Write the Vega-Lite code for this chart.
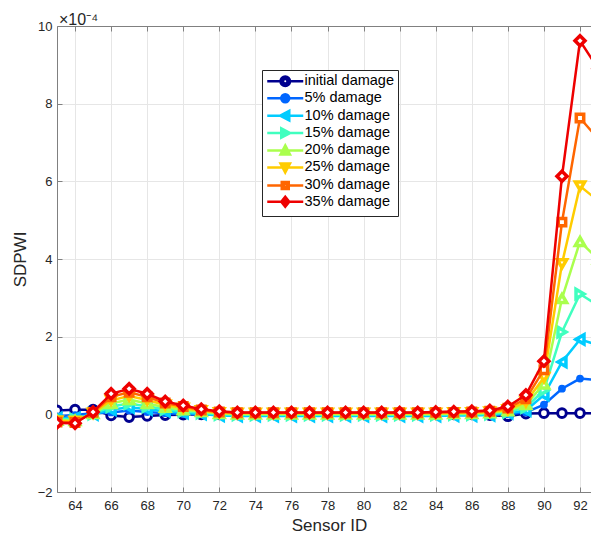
{
  "$schema": "https://vega.github.io/schema/vega-lite/v6.json",
  "autosize": {"type": "none"},
  "padding": {"left": 57, "top": 26, "right": 0, "bottom": 44},
  "width": 534,
  "height": 466,
  "background": "white",
  "config": {"font": "Liberation Sans", "view": {"stroke": null}},
  "title": {"text": "×10⁻⁴", "anchor": "start", "frame": "group", "offset": -8, "fontSize": 16, "fontWeight": "normal", "color": "#262626", "dx": 2},
  "data": {"values": [
    {"s": 63, "initial damage": 0.1, "5% damage": -0.05, "10% damage": -0.10, "15% damage": -0.12, "20% damage": -0.15, "25% damage": -0.17, "30% damage": -0.20, "35% damage": -0.22},
    {"s": 64, "initial damage": 0.12, "5% damage": -0.02, "10% damage": -0.10, "15% damage": -0.13, "20% damage": -0.16, "25% damage": -0.18, "30% damage": -0.21, "35% damage": -0.23},
    {"s": 65, "initial damage": 0.12, "5% damage": 0.03, "10% damage": 0.00, "15% damage": 0.01, "20% damage": 0.02, "25% damage": 0.03, "30% damage": 0.05, "35% damage": 0.06},
    {"s": 66, "initial damage": -0.03, "5% damage": 0.05, "10% damage": 0.12, "15% damage": 0.20, "20% damage": 0.28, "25% damage": 0.36, "30% damage": 0.45, "35% damage": 0.53},
    {"s": 67, "initial damage": -0.07, "5% damage": 0.10, "10% damage": 0.18, "15% damage": 0.28, "20% damage": 0.38, "25% damage": 0.47, "30% damage": 0.57, "35% damage": 0.66},
    {"s": 68, "initial damage": -0.04, "5% damage": 0.06, "10% damage": 0.13, "15% damage": 0.20, "20% damage": 0.28, "25% damage": 0.37, "30% damage": 0.45, "35% damage": 0.53},
    {"s": 69, "initial damage": -0.02, "5% damage": 0.03, "10% damage": 0.08, "15% damage": 0.13, "20% damage": 0.18, "25% damage": 0.24, "30% damage": 0.29, "35% damage": 0.33},
    {"s": 70, "initial damage": -0.01, "5% damage": 0.01, "10% damage": 0.04, "15% damage": 0.08, "20% damage": 0.12, "25% damage": 0.16, "30% damage": 0.20, "35% damage": 0.23},
    {"s": 71, "initial damage": 0.00, "5% damage": 0.00, "10% damage": 0.01, "15% damage": 0.04, "20% damage": 0.07, "25% damage": 0.09, "30% damage": 0.11, "35% damage": 0.13},
    {"s": 72, "initial damage": 0.00, "5% damage": -0.01, "10% damage": -0.03, "15% damage": 0.00, "20% damage": 0.02, "25% damage": 0.04, "30% damage": 0.06, "35% damage": 0.08},
    {"s": 73, "initial damage": 0.00, "5% damage": -0.01, "10% damage": -0.04, "15% damage": -0.01, "20% damage": 0.01, "25% damage": 0.03, "30% damage": 0.04, "35% damage": 0.05},
    {"s": 74, "initial damage": 0.00, "5% damage": -0.01, "10% damage": -0.04, "15% damage": -0.01, "20% damage": 0.01, "25% damage": 0.03, "30% damage": 0.04, "35% damage": 0.05},
    {"s": 75, "initial damage": 0.00, "5% damage": -0.01, "10% damage": -0.04, "15% damage": -0.01, "20% damage": 0.01, "25% damage": 0.03, "30% damage": 0.04, "35% damage": 0.05},
    {"s": 76, "initial damage": 0.00, "5% damage": -0.01, "10% damage": -0.04, "15% damage": -0.01, "20% damage": 0.01, "25% damage": 0.03, "30% damage": 0.04, "35% damage": 0.05},
    {"s": 77, "initial damage": 0.00, "5% damage": -0.01, "10% damage": -0.04, "15% damage": -0.01, "20% damage": 0.01, "25% damage": 0.03, "30% damage": 0.04, "35% damage": 0.05},
    {"s": 78, "initial damage": 0.00, "5% damage": -0.01, "10% damage": -0.04, "15% damage": -0.01, "20% damage": 0.01, "25% damage": 0.03, "30% damage": 0.04, "35% damage": 0.05},
    {"s": 79, "initial damage": 0.00, "5% damage": -0.01, "10% damage": -0.04, "15% damage": -0.01, "20% damage": 0.01, "25% damage": 0.03, "30% damage": 0.04, "35% damage": 0.05},
    {"s": 80, "initial damage": 0.00, "5% damage": -0.01, "10% damage": -0.04, "15% damage": -0.01, "20% damage": 0.01, "25% damage": 0.03, "30% damage": 0.04, "35% damage": 0.05},
    {"s": 81, "initial damage": 0.00, "5% damage": -0.01, "10% damage": -0.04, "15% damage": -0.01, "20% damage": 0.01, "25% damage": 0.03, "30% damage": 0.04, "35% damage": 0.05},
    {"s": 82, "initial damage": 0.00, "5% damage": -0.01, "10% damage": -0.04, "15% damage": -0.01, "20% damage": 0.01, "25% damage": 0.03, "30% damage": 0.04, "35% damage": 0.05},
    {"s": 83, "initial damage": 0.00, "5% damage": -0.01, "10% damage": -0.04, "15% damage": -0.01, "20% damage": 0.01, "25% damage": 0.03, "30% damage": 0.04, "35% damage": 0.05},
    {"s": 84, "initial damage": 0.00, "5% damage": -0.01, "10% damage": -0.04, "15% damage": -0.01, "20% damage": 0.01, "25% damage": 0.03, "30% damage": 0.05, "35% damage": 0.06},
    {"s": 85, "initial damage": 0.00, "5% damage": -0.01, "10% damage": -0.03, "15% damage": 0.00, "20% damage": 0.02, "25% damage": 0.04, "30% damage": 0.05, "35% damage": 0.07},
    {"s": 86, "initial damage": 0.00, "5% damage": -0.01, "10% damage": -0.03, "15% damage": 0.00, "20% damage": 0.02, "25% damage": 0.04, "30% damage": 0.06, "35% damage": 0.08},
    {"s": 87, "initial damage": -0.02, "5% damage": -0.01, "10% damage": -0.02, "15% damage": 0.01, "20% damage": 0.04, "25% damage": 0.06, "30% damage": 0.08, "35% damage": 0.10},
    {"s": 88, "initial damage": -0.05, "5% damage": 0.00, "10% damage": 0.03, "15% damage": 0.06, "20% damage": 0.09, "25% damage": 0.12, "30% damage": 0.16, "35% damage": 0.20},
    {"s": 89, "initial damage": 0.02, "5% damage": 0.05, "10% damage": 0.10, "15% damage": 0.18, "20% damage": 0.25, "25% damage": 0.32, "30% damage": 0.40, "35% damage": 0.50},
    {"s": 90, "initial damage": 0.03, "5% damage": 0.25, "10% damage": 0.50, "15% damage": 0.62, "20% damage": 0.78, "25% damage": 0.95, "30% damage": 1.15, "35% damage": 1.37},
    {"s": 91, "initial damage": 0.03, "5% damage": 0.66, "10% damage": 1.35, "15% damage": 2.12, "20% damage": 2.98, "25% damage": 3.88, "30% damage": 4.95, "35% damage": 6.13},
    {"s": 92, "initial damage": 0.03, "5% damage": 0.92, "10% damage": 1.93, "15% damage": 3.10, "20% damage": 4.45, "25% damage": 5.88, "30% damage": 7.63, "35% damage": 9.62},
    {"s": 93, "initial damage": 0.03, "5% damage": 0.88, "10% damage": 1.78, "15% damage": 2.80, "20% damage": 4.00, "25% damage": 5.50, "30% damage": 7.10, "35% damage": 8.90}
  ]},
  "transform": [
    {"fold": ["initial damage", "5% damage", "10% damage", "15% damage", "20% damage", "25% damage", "30% damage", "35% damage"], "as": ["series", "v"]}
  ],
  "resolve": {"axis": {"x": "independent"}},
  "layer": [
    {
      "transform": [{"filter": "datum.series === 'initial damage'"}],
      "mark": {"type": "line", "strokeWidth": 2.5, "clip": true, "point": {"shape": "circle", "filled": false, "fill": "white", "size": 75, "strokeWidth": 3}},
      "encoding": {
        "x": {"field": "s", "type": "quantitative", "scale": {"domain": [63, 92.61], "nice": false, "zero": false},
          "axis": {"orient": "top", "values": [64,66,68,70,72,74,76,78,80,82,84,86,88,90,92], "labels": false, "grid": false, "title": null, "tickSize": -5, "domainColor": "#808080", "tickColor": "#808080"}},
        "y": {"field": "v", "type": "quantitative", "scale": {"domain": [-2, 10], "nice": false, "zero": false},
          "axis": {"values": [-2,0,2,4,6,8,10], "title": "SDPWI", "grid": true, "gridColor": "#e6e6e6", "tickSize": -5, "labelPadding": 10, "labelFontSize": 13, "labelColor": "#262626", "titleFontSize": 17, "titleFontWeight": "normal", "titleColor": "#262626", "titlePadding": 8, "domainColor": "#808080", "tickColor": "#808080", "labelFlush": false}},
        "color": {"field": "series", "type": "nominal",
          "scale": {"domain": ["initial damage", "5% damage", "10% damage", "15% damage", "20% damage", "25% damage", "30% damage", "35% damage"],
                    "range": ["#00008f", "#0066ff", "#00ccff", "#40ffbf", "#aaff4d", "#ffcc00", "#ff6600", "#ee0000"]},
          "legend": {"orient": "none", "legendX": 205, "legendY": 44, "title": null, "strokeColor": "#262626", "fillColor": "white", "padding": 4,
            "symbolSize": 100, "symbolStrokeWidth": 2.5, "symbolOffset": 12, "labelOffset": 12, "labelFontSize": 14.5, "labelColor": "#000000", "rowPadding": -2.6, "labelLimit": 200,
            "encode": {"symbols": {"update": {
              "shape": {"signal": "['M-3.6,0L-0.95,0M0.95,0L3.6,0M-0.95,0A0.95,0.95,0,1,1,0.95,0A0.95,0.95,0,1,1,-0.95,0ZM-0.45,0A0.45,0.45,0,1,0,0.45,0A0.45,0.45,0,1,0,-0.45,0Z','M-3.6,0L3.6,0M-0.8,0A0.8,0.8,0,1,1,0.8,0A0.8,0.8,0,1,1,-0.8,0Z','M-3.6,0L-1,0M0.8,0L3.6,0M-1,0L0.8,-0.95L0.8,0.95ZM-0.35,0L0.45,0.42L0.45,-0.42Z','M-3.6,0L-0.8,0M1,0L3.6,0M1,0L-0.8,-0.95L-0.8,0.95ZM0.35,0L-0.45,0.42L-0.45,-0.42Z','M-3.6,0L-0.5,0M0.5,0L3.6,0M0,-1L0.95,0.8L-0.95,0.8ZM0,-0.35L-0.42,0.45L0.42,0.45Z','M-3.6,0L-0.5,0M0.5,0L3.6,0M0,1L0.95,-0.8L-0.95,-0.8ZM0,0.35L-0.42,-0.45L0.42,-0.45Z','M-3.6,0L-0.7,0M0.7,0L3.6,0M-0.7,-0.7L0.7,-0.7L0.7,0.7L-0.7,0.7ZM-0.3,-0.3L-0.3,0.3L0.3,0.3L0.3,-0.3Z','M-3.6,0L-0.8,0M0.8,0L3.6,0M0,-1L0.8,0L0,1L-0.8,0ZM0,-0.4L-0.3,0L0,0.4L0.3,0Z'][indexof(['initial damage','5% damage','10% damage','15% damage','20% damage','25% damage','30% damage','35% damage'], datum.value)]"},
              "opacity": {"value": 1}
            }}}}}
      }
    },
    {
      "transform": [{"filter": "datum.series === '5% damage'"}],
      "mark": {"type": "line", "strokeWidth": 2.5, "clip": true, "point": {"shape": "circle", "filled": true, "size": 60, "opacity": 1}},
      "encoding": {
        "x": {"field": "s", "type": "quantitative", "scale": {"domain": [63, 92.61], "nice": false, "zero": false},
          "axis": {"orient": "bottom", "values": [64,66,68,70,72,74,76,78,80,82,84,86,88,90,92], "title": "Sensor ID", "titleX": 272, "grid": true, "gridColor": "#e6e6e6", "tickSize": -5, "labelPadding": 12, "labelFontSize": 13, "labelColor": "#262626", "titleFontSize": 17, "titleFontWeight": "normal", "titleColor": "#262626", "titlePadding": 5, "domainColor": "#808080", "tickColor": "#808080", "labelFlush": false}},
        "y": {"field": "v", "type": "quantitative"},
        "color": {"field": "series", "type": "nominal"}
      }
    },
    {
      "transform": [{"filter": "datum.series === '10% damage'"}],
      "mark": {"type": "line", "strokeWidth": 2.5, "clip": true, "point": {"shape": "triangle-left", "filled": false, "fill": "white", "size": 85, "strokeWidth": 3.5}},
      "encoding": {"x": {"field": "s", "type": "quantitative", "axis": null}, "y": {"field": "v", "type": "quantitative"}, "color": {"field": "series", "type": "nominal"}}
    },
    {
      "transform": [{"filter": "datum.series === '15% damage'"}],
      "mark": {"type": "line", "strokeWidth": 2.5, "clip": true, "point": {"shape": "triangle-right", "filled": false, "fill": "white", "size": 85, "strokeWidth": 3.5}},
      "encoding": {"x": {"field": "s", "type": "quantitative", "axis": null}, "y": {"field": "v", "type": "quantitative"}, "color": {"field": "series", "type": "nominal"}}
    },
    {
      "transform": [{"filter": "datum.series === '20% damage'"}],
      "mark": {"type": "line", "strokeWidth": 2.5, "clip": true, "point": {"shape": "triangle-up", "filled": false, "fill": "white", "size": 85, "strokeWidth": 3.5}},
      "encoding": {"x": {"field": "s", "type": "quantitative", "axis": null}, "y": {"field": "v", "type": "quantitative"}, "color": {"field": "series", "type": "nominal"}}
    },
    {
      "transform": [{"filter": "datum.series === '25% damage'"}],
      "mark": {"type": "line", "strokeWidth": 2.5, "clip": true, "point": {"shape": "triangle-down", "filled": false, "fill": "white", "size": 85, "strokeWidth": 3.5}},
      "encoding": {"x": {"field": "s", "type": "quantitative", "axis": null}, "y": {"field": "v", "type": "quantitative"}, "color": {"field": "series", "type": "nominal"}}
    },
    {
      "transform": [{"filter": "datum.series === '30% damage'"}],
      "mark": {"type": "line", "strokeWidth": 2.5, "clip": true, "point": {"shape": "square", "filled": false, "fill": "white", "size": 55, "strokeWidth": 3.5}},
      "encoding": {"x": {"field": "s", "type": "quantitative", "axis": null}, "y": {"field": "v", "type": "quantitative"}, "color": {"field": "series", "type": "nominal"}}
    },
    {
      "transform": [{"filter": "datum.series === '35% damage'"}],
      "mark": {"type": "line", "strokeWidth": 2.5, "clip": true, "point": {"shape": "diamond", "filled": false, "fill": "white", "size": 100, "strokeWidth": 3.5}},
      "encoding": {"x": {"field": "s", "type": "quantitative", "axis": null}, "y": {"field": "v", "type": "quantitative"}, "color": {"field": "series", "type": "nominal"}}
    }
  ]
}
